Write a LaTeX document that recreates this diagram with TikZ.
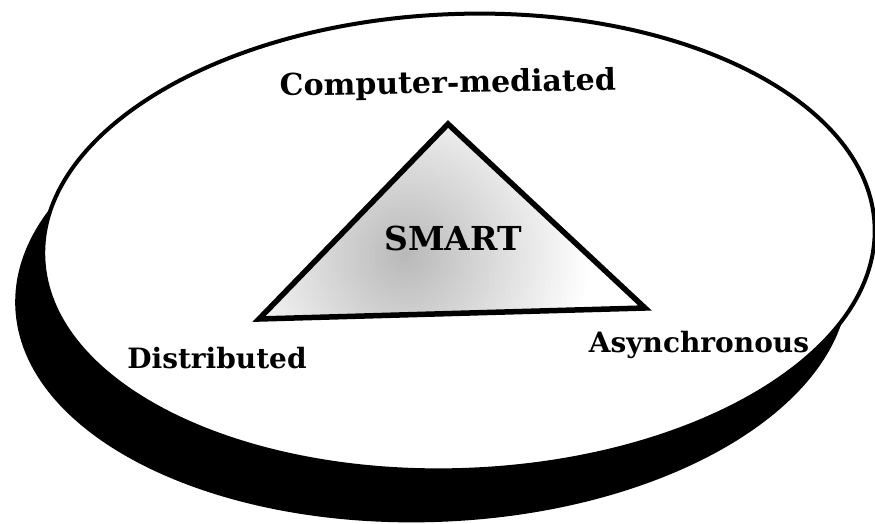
\documentclass[tikz,border=0pt]{standalone}
\usepackage{fontspec}
\setmainfont{DejaVu Serif}
\begin{document}
\begin{tikzpicture}[x=1pt,y=-1pt,
  lbl/.style={font=\bfseries\fontsize{28}{30}\selectfont, inner sep=0pt, anchor=base},
  disc/.style={fill=white, draw=black, line width=4pt},
  tri/.style={draw=black, line width=5.5pt, line join=miter}
]
\useasboundingbox (0,0) rectangle (875,524);
% disc and its shadow
\coordinate (c) at (459,242);
\coordinate (cs) at (432,291);
\fill[black, rotate around={2.2:(cs)}] (cs) ellipse [x radius=417, y radius=231];
\path[disc, rotate around={2.2:(c)}] (c) ellipse [x radius=416, y radius=228];
% triangle
\coordinate (top) at (448,124);
\coordinate (bl) at (259,319);
\coordinate (br) at (645,308);
\coordinate (sh) at (405,255);
\begin{scope}
  \clip (top) -- (bl) -- (br) -- cycle;
  \shade[inner color=gray!55, outer color=white] (sh) circle (185);
\end{scope}
\draw[tri] (top) -- (bl) -- (br) -- cycle;
% labels
\node[lbl, font=\bfseries\fontsize{33}{35}\selectfont] (smart) at (453,250) {SMART};
\node[lbl, font=\bfseries\fontsize{30}{32}\selectfont, rotate=1] (cm) at (448,93) {Computer-mediated};
\node[lbl] (dist) at (217,368) {Distributed};
\node[lbl] (async) at (699,352) {Asynchronous};
\end{tikzpicture}
\end{document}
